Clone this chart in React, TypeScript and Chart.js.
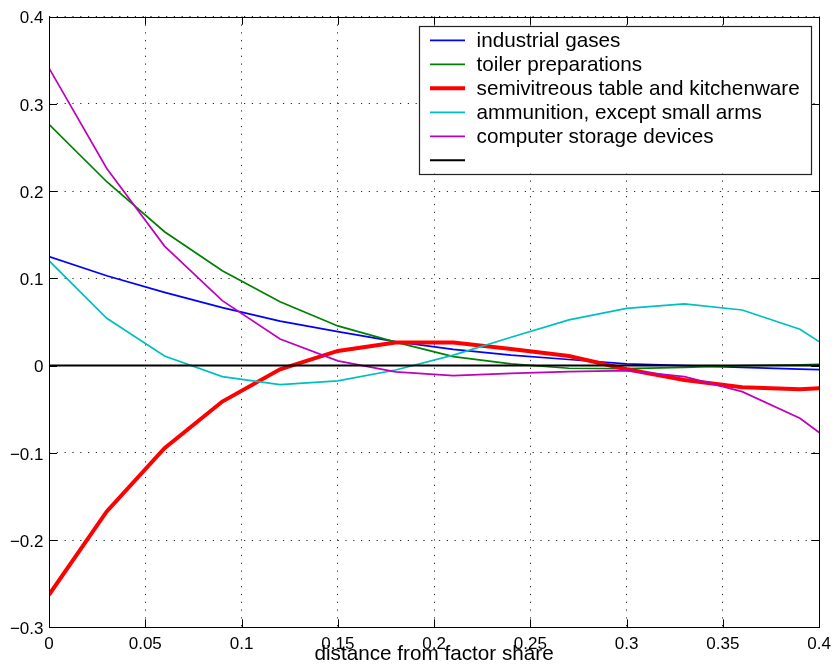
import React, { useEffect, useRef } from 'react';
import { Chart, registerables } from 'chart.js';

Chart.register(...registerables);

// ---- data ----
const xs = [0, 0.03, 0.06, 0.09, 0.12, 0.15, 0.18, 0.21, 0.24, 0.27, 0.3, 0.33, 0.36, 0.39, 0.4];

const industrialGases = [0.125, 0.103, 0.084, 0.0665, 0.051, 0.039, 0.0275, 0.0187, 0.012, 0.007, 0.002, 0.0, -0.002, -0.004, -0.0045];
const toilerPreparations = [0.2765, 0.2108, 0.1535, 0.1088, 0.0733, 0.0455, 0.027, 0.0103, 0.002, -0.003, -0.0035, -0.002, 0.0, 0.001, 0.0015];
const semivitreousTable = [-0.2627, -0.1672, -0.0947, -0.0412, -0.0042, 0.0168, 0.0264, 0.0264, 0.019, 0.0111, -0.0042, -0.0164, -0.0248, -0.027, -0.026];
const ammunition = [0.1203, 0.0543, 0.0111, -0.0126, -0.0218, -0.0175, -0.005, 0.012, 0.0325, 0.0524, 0.0657, 0.0707, 0.0638, 0.0417, 0.0275];
const computerStorage = [0.341, 0.226, 0.137, 0.0745, 0.0306, 0.0054, -0.0072, -0.0115, -0.009, -0.0069, -0.0057, -0.0126, -0.0298, -0.0603, -0.0767];

const zeroLineX = [0, 0.4];
const zeroLineY = [0, 0];

const seriesNames = [
  'industrial gases',
  'toiler preparations',
  'semivitreous table and kitchenware',
  'ammunition, except small arms',
  'computer storage devices',
  '',
];

const xTickValues = [0, 0.05, 0.1, 0.15, 0.2, 0.25, 0.3, 0.35, 0.4];
const xTickLabels = ['0', '0.05', '0.1', '0.15', '0.2', '0.25', '0.3', '0.35', '0.4'];
const yTickValues = [-0.3, -0.2, -0.1, 0, 0.1, 0.2, 0.3, 0.4];
const yTickLabels = ['\u22120.3', '\u22120.2', '\u22120.1', '0', '0.1', '0.2', '0.3', '0.4'];

const xTitle = 'distance from factor share';

const FONT = '"Liberation Sans", Arial, Helvetica, sans-serif';

const toPoints = (x: number[], y: number[]) => x.map((v, i) => ({ x: v, y: y[i] }));

const framePlugin = {
  id: 'matlabFrame',
  afterDatasetsDraw(chart: any) {
    const { ctx, chartArea: a, scales } = chart;
    ctx.save();
    ctx.setLineDash([]);
    ctx.strokeStyle = '#000';
    ctx.lineWidth = 1;
    const tl = 8;
    ctx.beginPath();
    scales.x.ticks.forEach((t: any) => {
      const px = Math.round(scales.x.getPixelForValue(t.value)) + 0.5;
      ctx.moveTo(px, a.bottom);
      ctx.lineTo(px, a.bottom - tl);
      ctx.moveTo(px, a.top);
      ctx.lineTo(px, a.top + tl);
    });
    scales.y.ticks.forEach((t: any) => {
      const py = Math.round(scales.y.getPixelForValue(t.value)) + 0.5;
      ctx.moveTo(a.left, py);
      ctx.lineTo(a.left + tl, py);
      ctx.moveTo(a.right, py);
      ctx.lineTo(a.right - tl, py);
    });
    ctx.stroke();
    const l = Math.round(a.left) + 0.5;
    const t = Math.round(a.top) + 0.5;
    const r = Math.round(a.right) + 0.5;
    const b = Math.round(a.bottom) + 0.5;
    ctx.strokeRect(l, t, r - l, b - t);
    ctx.restore();
  },
  afterDraw(chart: any) {
    const { ctx, chartArea: a } = chart;
    const datasets = chart.data.datasets;
    ctx.save();
    ctx.font = `20.7px ${FONT}`;
    let maxW = 0;
    datasets.forEach((d: any) => {
      maxW = Math.max(maxW, ctx.measureText(d.label || '').width);
    });
    const right = Math.round(a.right - 8.3);
    const top = Math.round(a.top + 9);
    const width = 57.6 + maxW + 11.7;
    const rowH = 24;
    const height = 14.3 + rowH * (datasets.length - 1) + 13.3;
    const left = Math.round(right - width);
    ctx.fillStyle = '#fff';
    ctx.fillRect(left, top, right - left, height);
    ctx.strokeStyle = '#222';
    ctx.lineWidth = 1.2;
    ctx.strokeRect(left + 0.5, top + 0.5, right - left, Math.round(height));
    datasets.forEach((d: any, i: number) => {
      const y = top + 14.3 + i * rowH;
      ctx.strokeStyle = d.borderColor;
      ctx.lineWidth = d.borderWidth;
      ctx.beginPath();
      ctx.moveTo(left + 11, y);
      ctx.lineTo(left + 46, y);
      ctx.stroke();
      ctx.fillStyle = '#000';
      ctx.textBaseline = 'middle';
      ctx.textAlign = 'left';
      ctx.fillText(d.label || '', left + 57.6, y + 1);
    });
    ctx.restore();
  },
};

export default function App() {
  const ref = useRef<HTMLCanvasElement | null>(null);

  useEffect(() => {
    if (!ref.current) return;
    const series = [industrialGases, toilerPreparations, semivitreousTable, ammunition, computerStorage];
    const colors = ['#0000ff', '#008000', '#ff0000', '#00bfbf', '#bf00bf'];
    const widths = [1.7, 1.7, 4, 1.7, 1.7];
    const datasets: any[] = series.map((s, i) => ({
      label: seriesNames[i],
      data: toPoints(xs, s),
      borderColor: colors[i],
      backgroundColor: colors[i],
      borderWidth: widths[i],
      pointRadius: 0,
      tension: 0,
      fill: false,
      order: 5 - i,
    }));
    datasets.push({
      label: seriesNames[5],
      data: toPoints(zeroLineX, zeroLineY),
      borderColor: '#000',
      backgroundColor: '#000',
      borderWidth: 2,
      pointRadius: 0,
      tension: 0,
      fill: false,
      order: 0,
    });

    const chart = new Chart(ref.current, {
      type: 'line',
      data: { datasets },
      plugins: [framePlugin],
      options: {
        animation: false,
        responsive: false,
        devicePixelRatio: 1,
        layout: { padding: { top: 16.7, right: 14.7, left: 0, bottom: 0 } },
        plugins: {
          legend: { display: false },
          tooltip: { enabled: false },
        },
        scales: {
          x: {
            type: 'linear',
            min: 0,
            max: 0.4,
            afterBuildTicks: (scale: any) => {
              scale.ticks = xTickValues.map((v) => ({ value: v }));
            },
            afterFit: (scale: any) => {
              scale.height = 39.7;
            },
            ticks: {
              callback: (_v: any, i: number) => xTickLabels[i],
              font: { family: FONT, size: 17 },
              color: '#000',
              padding: 7,
              maxRotation: 0,
              autoSkip: false,
            },
            grid: {
              drawTicks: false,
              color: 'rgba(0,0,0,0.85)',
              lineWidth: 1,
            },
            border: { display: false, dash: [1.2, 6.6] },
            title: {
              display: true,
              text: xTitle,
              font: { family: FONT, size: 20.7 },
              color: '#000',
              padding: 0,
            },
          },
          y: {
            type: 'linear',
            min: -0.3,
            max: 0.4,
            afterBuildTicks: (scale: any) => {
              scale.ticks = yTickValues.map((v) => ({ value: v }));
            },
            afterFit: (scale: any) => {
              scale.width = 49;
            },
            ticks: {
              callback: (_v: any, i: number) => yTickLabels[i],
              font: { family: FONT, size: 17 },
              color: '#000',
              padding: 5.5,
              labelOffset: 2,
              autoSkip: false,
            },
            grid: {
              drawTicks: false,
              color: 'rgba(0,0,0,0.85)',
              lineWidth: 1,
            },
            border: { display: false, dash: [1.2, 6.6] },
          },
        },
      } as any,
    });
    return () => chart.destroy();
  }, []);

  return (
    <div style={{ position: 'absolute', left: 0, top: 0, width: 838, height: 667, background: '#fff' }}>
      <canvas ref={ref} width={838} height={667} style={{ display: 'block' }} />
    </div>
  );
}
